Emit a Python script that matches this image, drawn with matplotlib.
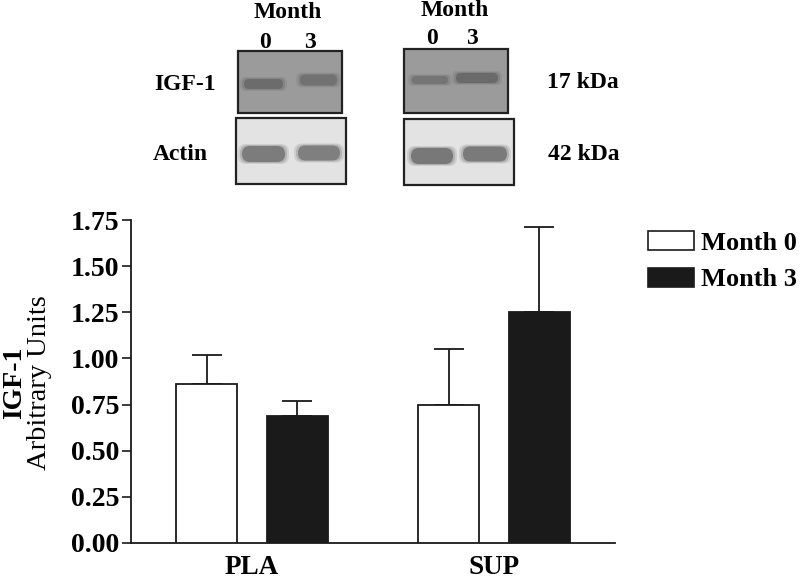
import matplotlib
matplotlib.use("Agg")
import matplotlib.pyplot as plt
from matplotlib.patches import Rectangle, FancyBboxPatch, Patch
import numpy as np

# ---- data ----
groups = ["PLA", "SUP"]
series = ["Month 0", "Month 3"]
month0 = [0.86, 0.75]
month0_err = [0.16, 0.30]
month3 = [0.69, 1.25]
month3_err = [0.08, 0.46]
yticks = [0.00, 0.25, 0.50, 0.75, 1.00, 1.25, 1.50, 1.75]
lane_labels = ["0", "3"]
blot_rows = ["IGF-1", "Actin"]
blot_sizes = ["17 kDa", "42 kDa"]

plt.rcParams["font.family"] = ["Liberation Serif", "DejaVu Serif"]

W, H = 800, 579
fig = plt.figure(figsize=(W / 100, H / 100), dpi=100)

def fx(px):
    return px / W

def fy(py):
    return 1 - py / H

# ---- main bar chart ----
ax = fig.add_axes([fx(131), fy(543), fx(615) - fx(131), fy(220) - fy(543)])
x = np.arange(len(groups))
off = 0.187
bw = 0.252
ax.bar(x - off, month0, bw, color="white", edgecolor="#1a1a1a", linewidth=1.3,
       label=series[0], zorder=3)
ax.bar(x + off, month3, bw, color="#1a1a1a", edgecolor="#1a1a1a", linewidth=1.3,
       label=series[1], zorder=3)
ax.errorbar(x - off, month0, yerr=[np.zeros(len(month0)), month0_err], fmt="none",
            ecolor="#1a1a1a", elinewidth=1.3, capsize=11, capthick=1.3, zorder=2)
ax.errorbar(x + off, month3, yerr=[np.zeros(len(month3)), month3_err], fmt="none",
            ecolor="#1a1a1a", elinewidth=1.3, capsize=11, capthick=1.3, zorder=2)

ax.set_xlim(-0.5, 1.5)
ax.set_ylim(0, 1.75)
ax.set_yticks(yticks)
ax.set_yticklabels([f"{v:.2f}" for v in yticks], fontsize=20, fontweight="bold")
ax.set_xticks(x)
ax.set_xticklabels(groups, fontsize=19.5, fontweight="bold")
ax.tick_params(axis="y", direction="out", length=6.5, width=1.2, pad=2, color="#1a1a1a")
ax.tick_params(axis="x", length=0, pad=9)
for s in ["top", "right"]:
    ax.spines[s].set_visible(False)
for s in ["left", "bottom"]:
    ax.spines[s].set_linewidth(1.3)
    ax.spines[s].set_color("#1a1a1a")

fig.text(fx(15), fy(383), "IGF-1", rotation=90, ha="center", va="center",
         fontsize=20, fontweight="bold")
fig.text(fx(40), fy(383), "Arbitrary Units", rotation=90, ha="center", va="center",
         fontsize=20.5)

handles = [Patch(facecolor="white", edgecolor="#1a1a1a", linewidth=1.2),
           Patch(facecolor="#1a1a1a", edgecolor="#1a1a1a", linewidth=1.2)]
leg = fig.legend(handles, series, loc="upper left",
                 bbox_to_anchor=(fx(648), fy(231)), frameon=False,
                 prop={"size": 19, "weight": "bold"}, handlelength=1.75,
                 handleheight=0.72, handletextpad=0.25, labelspacing=0.5,
                 borderaxespad=0, borderpad=0)

# ---- western blot inset (drawn in pixel coordinates) ----
bx = fig.add_axes([0, 0, 1, 1], zorder=-1)
bx.set_xlim(0, W)
bx.set_ylim(H, 0)
bx.axis("off")

panels = [
    # (x0, y0, x1, y1, face)
    (238, 51, 342, 113, "#9b9b9b"),
    (236, 118, 346, 184, "#e3e3e3"),
    (404, 49, 508, 113, "#9b9b9b"),
    (404, 119, 514, 185, "#e3e3e3"),
]
for x0, y0, x1, y1, fc in panels:
    bx.add_patch(Rectangle((x0, y0), x1 - x0, y1 - y0, facecolor=fc,
                           edgecolor="#222222", linewidth=1.6))

bands = [
    # (x0, x1, yc, h, color)
    (241, 286, 84, 10, "#6c6c6c"),
    (297, 340, 80, 11, "#727272"),
    (239, 288, 154, 16, "#7c7c7c"),
    (295, 343, 153, 15, "#7f7f7f"),
    (409, 451, 80, 8, "#747474"),
    (453, 501, 78, 10, "#6a6a6a"),
    (408, 456, 156, 16, "#787878"),
    (460, 510, 154, 15, "#7a7a7a"),
]
for x0, x1, yc, h, c in bands:
    for k, a in [(4, 0.2), (2, 0.35), (0, 1.0)]:
        bx.add_patch(FancyBboxPatch((x0 + 3 - k, yc - h / 2 - k / 2), x1 - x0 - 6 + 2 * k,
                                    h + k, boxstyle=f"round,pad=0,rounding_size={h/2}",
                                    facecolor=c, edgecolor="none", alpha=a))

tkw = dict(ha="center", va="center", fontweight="bold", fontsize=17)
bx.text(288, 12, "Month", **tkw)
bx.text(265, 42, lane_labels[0], **tkw)
bx.text(310, 42, lane_labels[1], **tkw)
bx.text(455, 10, "Month", **tkw)
bx.text(432, 39, lane_labels[0], **tkw)
bx.text(472, 39, lane_labels[1], **tkw)
bx.text(185, 85, blot_rows[0], **tkw)
bx.text(180, 154, blot_rows[1], **tkw)
bx.text(583, 82, blot_sizes[0], **tkw)
bx.text(584, 155, blot_sizes[1], **tkw)

fig.savefig("out.png", dpi=100)
